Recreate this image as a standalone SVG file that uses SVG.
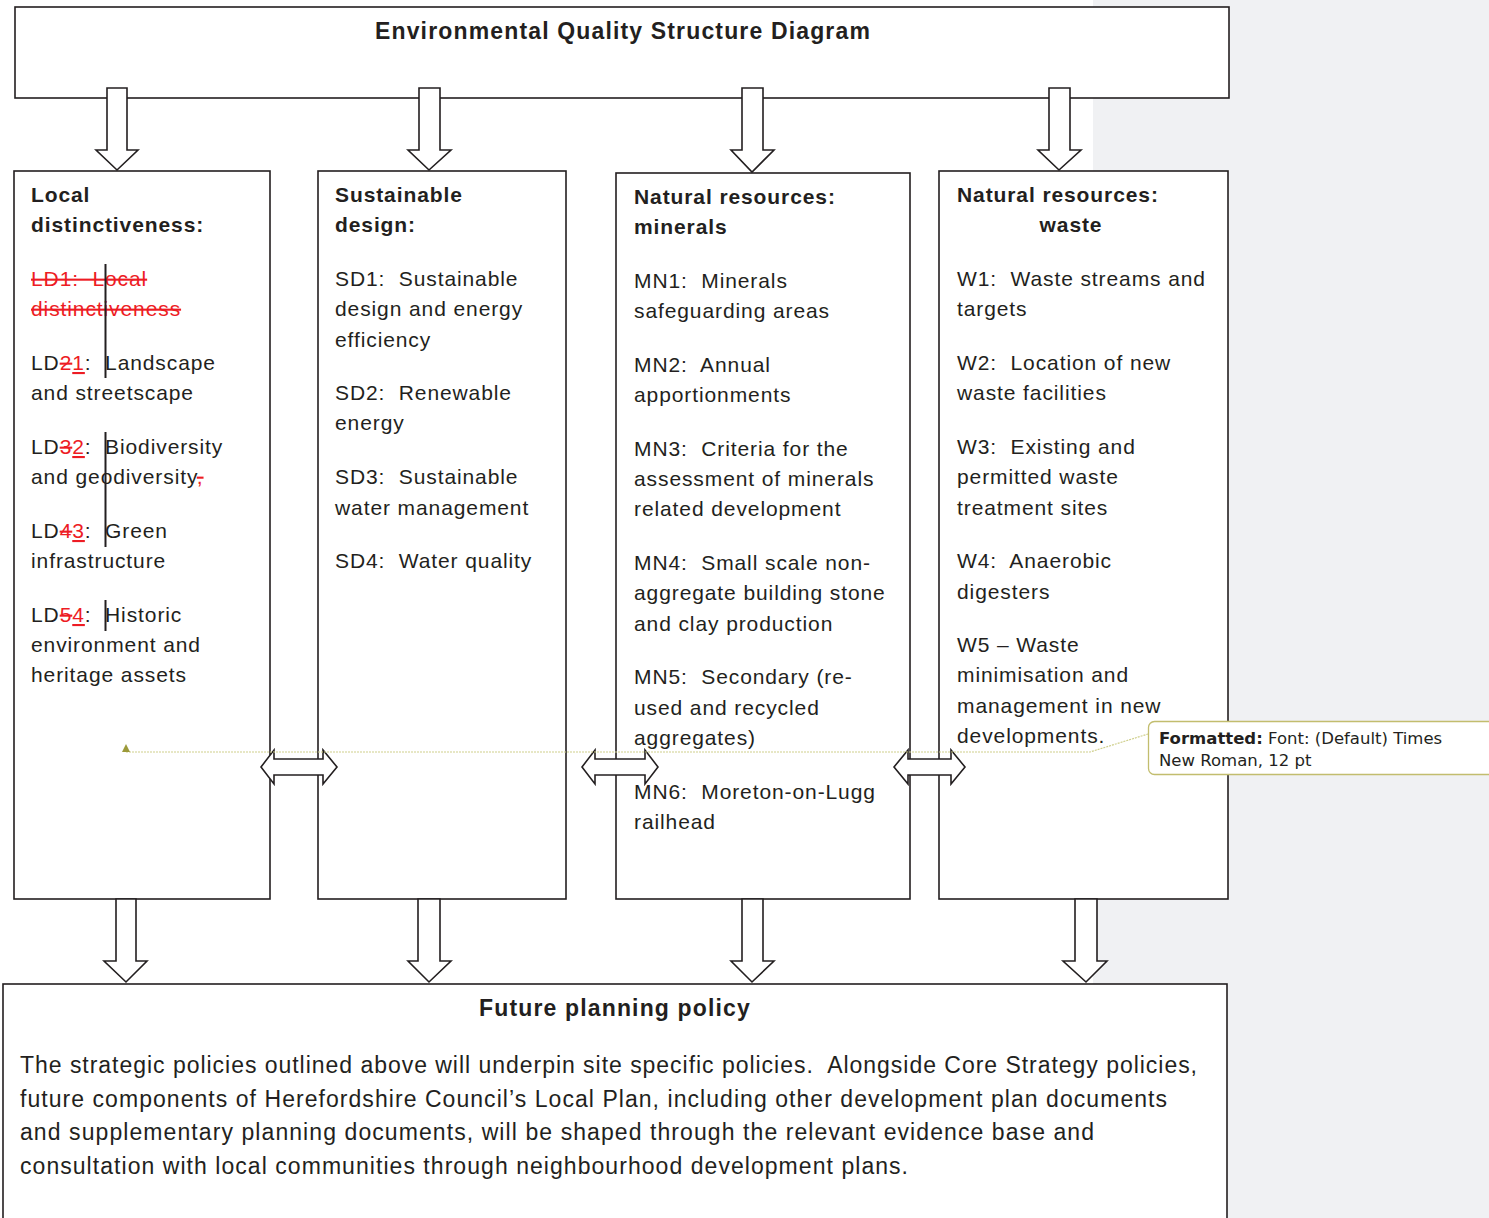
<svg xmlns="http://www.w3.org/2000/svg" width="1489" height="1218" viewBox="0 0 1489 1218">
<style>
.t{font-family:"Liberation Sans",Arial,sans-serif;font-size:21px;letter-spacing:0.9px;fill:#231f20;white-space:pre}
.h{font-family:"Liberation Sans",Arial,sans-serif;font-size:23px;letter-spacing:1.15px;fill:#231f20;font-weight:bold;white-space:pre}
.p{font-family:"Liberation Sans",Arial,sans-serif;font-size:23px;letter-spacing:1px;fill:#231f20;white-space:pre}
.b{font-weight:bold}
.box{fill:#fff;stroke:#231f20;stroke-width:1.6}
.arr{fill:#fff;stroke:#231f20;stroke-width:1.6;stroke-linejoin:miter}
.del{fill:#ed1c24;text-decoration:line-through}
.ins{fill:#ed1c24;text-decoration:underline}
.bar{stroke:#231f20;stroke-width:2}
.cm{font-family:"DejaVu Sans",Verdana,sans-serif;font-size:16.5px;fill:#231f20}
</style>
<rect x="0" y="0" width="1489" height="1218" fill="#fff"/>
<rect x="1093" y="0" width="396" height="1218" fill="#f0f1f3"/>

<g id="header">
<rect class="box" x="15" y="7" width="1214" height="91" stroke-width="2"/>
<text class="h" x="623" y="39" text-anchor="middle">Environmental Quality Structure Diagram</text>
</g>

<g id="local-distinctiveness">
<rect class="box" x="14" y="171" width="256" height="728"/>
<text class="t b" x="31" y="202">Local</text>
<text class="t b" x="31" y="232">distinctiveness:</text>
<text class="t" x="31" y="286"><tspan class="del">LD1:  Local</tspan></text>
<text class="t" x="31" y="316"><tspan class="del">distinctiveness</tspan></text>
<text class="t" x="31" y="370">LD<tspan class="del">2</tspan><tspan class="ins">1</tspan>:  Landscape</text>
<text class="t" x="31" y="400">and streetscape</text>
<text class="t" x="31" y="454">LD<tspan class="del">3</tspan><tspan class="ins">2</tspan>:  Biodiversity</text>
<text class="t" x="31" y="484">and geodiversity<tspan class="del">,</tspan></text>
<text class="t" x="31" y="538">LD<tspan class="del">4</tspan><tspan class="ins">3</tspan>:  Green</text>
<text class="t" x="31" y="568">infrastructure</text>
<text class="t" x="31" y="622">LD<tspan class="del">5</tspan><tspan class="ins">4</tspan>:  Historic</text>
<text class="t" x="31" y="652">environment and</text>
<text class="t" x="31" y="682">heritage assets</text>
<line class="bar" x1="105.5" y1="264" x2="105.5" y2="378"/>
<line class="bar" x1="105.5" y1="432" x2="105.5" y2="547"/>
<line class="bar" x1="105.5" y1="600" x2="105.5" y2="631"/>
</g>

<g id="sustainable-design">
<rect class="box" x="318" y="171" width="248" height="728"/>
<text class="t b" x="335" y="202">Sustainable</text>
<text class="t b" x="335" y="232">design:</text>
<text class="t" x="335" y="286">SD1:  Sustainable</text>
<text class="t" x="335" y="316">design and energy</text>
<text class="t" x="335" y="347">efficiency</text>
<text class="t" x="335" y="400">SD2:  Renewable</text>
<text class="t" x="335" y="430">energy</text>
<text class="t" x="335" y="484">SD3:  Sustainable</text>
<text class="t" x="335" y="515">water management</text>
<text class="t" x="335" y="568">SD4:  Water quality</text>
</g>

<g id="minerals">
<rect class="box" x="616" y="173" width="294" height="726"/>
<text class="t b" x="634" y="204">Natural resources:</text>
<text class="t b" x="634" y="234">minerals</text>
<text class="t" x="634" y="288">MN1:  Minerals</text>
<text class="t" x="634" y="318">safeguarding areas</text>
<text class="t" x="634" y="372">MN2:  Annual</text>
<text class="t" x="634" y="402">apportionments</text>
<text class="t" x="634" y="456">MN3:  Criteria for the</text>
<text class="t" x="634" y="486">assessment of minerals</text>
<text class="t" x="634" y="516">related development</text>
<text class="t" x="634" y="570">MN4:  Small scale non-</text>
<text class="t" x="634" y="600">aggregate building stone</text>
<text class="t" x="634" y="631">and clay production</text>
<text class="t" x="634" y="684">MN5:  Secondary (re-</text>
<text class="t" x="634" y="715">used and recycled</text>
<text class="t" x="634" y="745">aggregates)</text>
<text class="t" x="634" y="799">MN6:  Moreton-on-Lugg</text>
<text class="t" x="634" y="829">railhead</text>
</g>

<g id="waste">
<rect class="box" x="939" y="171" width="289" height="728"/>
<text class="t b" x="957" y="202">Natural resources:</text>
<text class="t b" x="1071" y="232" text-anchor="middle">waste</text>
<text class="t" x="957" y="286">W1:  Waste streams and</text>
<text class="t" x="957" y="316">targets</text>
<text class="t" x="957" y="370">W2:  Location of new</text>
<text class="t" x="957" y="400">waste facilities</text>
<text class="t" x="957" y="454">W3:  Existing and</text>
<text class="t" x="957" y="484">permitted waste</text>
<text class="t" x="957" y="515">treatment sites</text>
<text class="t" x="957" y="568">W4:  Anaerobic</text>
<text class="t" x="957" y="599">digesters</text>
<text class="t" x="957" y="652">W5 – Waste</text>
<text class="t" x="957" y="682">minimisation and</text>
<text class="t" x="957" y="713">management in new</text>
<text class="t" x="957" y="743">developments.</text>
</g>

<g id="future-planning-policy">
<rect class="box" x="3" y="984" width="1224" height="250"/>
<text class="h" x="615" y="1016" text-anchor="middle">Future planning policy</text>
<text class="p" x="20" y="1073" textLength="1178" lengthAdjust="spacing">The strategic policies outlined above will underpin site specific policies.  Alongside Core Strategy policies,</text>
<text class="p" x="20" y="1107" textLength="1148" lengthAdjust="spacing">future components of Herefordshire Council’s Local Plan, including other development plan documents</text>
<text class="p" x="20" y="1140" textLength="1075" lengthAdjust="spacing">and supplementary planning documents, will be shaped through the relevant evidence base and</text>
<text class="p" x="20" y="1174" textLength="889" lengthAdjust="spacing">consultation with local communities through neighbourhood development plans.</text>
</g>

<g id="connectors">
<polygon class="arr" points="107,88 127,88 127,150 138,150 117,170 96,150 107,150"/>
<polygon class="arr" points="419,88 440,88 440,150 451,150 429,170 408,150 419,150"/>
<polygon class="arr" points="742,88 763,88 763,150 774,150 752,172 731,150 742,150"/>
<polygon class="arr" points="1049,88 1070,88 1070,150 1081,150 1059,170 1038,150 1049,150"/>
<polygon class="arr" points="116,899 136,899 136,961 147,961 126,982 104,961 116,961"/>
<polygon class="arr" points="418,899 440,899 440,961 451,961 429,982 408,961 418,961"/>
<polygon class="arr" points="742,899 763,899 763,961 774,961 752,982 731,961 742,961"/>
<polygon class="arr" points="1075,899 1097,899 1097,961 1107,961 1086,982 1063,961 1075,961"/>
<polygon class="arr" points="261,767 274,750 274,759 323,759 323,750 337,767 323,784 323,775 274,775 274,784"/>
<polygon class="arr" points="582,767 595,750 595,759 645,759 645,750 658,767 645,784 645,775 595,775 595,784"/>
<polygon class="arr" points="894,767 908,750 908,759 951,759 951,750 965,767 951,784 951,775 908,775 908,784"/>
</g>

<g id="comment">
<polyline points="126,752 1090,752 1148,734" fill="none" stroke="#cfcf8c" stroke-width="1.2" stroke-dasharray="2,1"/>
<polygon points="122,752 130,752 126,744" fill="#9c9a3a"/>
<rect x="1148.5" y="721.5" width="360" height="53" rx="6" fill="#fff" stroke="#c2bd6e" stroke-width="1.3"/>
<text class="cm" x="1159" y="744"><tspan font-weight="bold">Formatted:</tspan> Font: (Default) Times</text>
<text class="cm" x="1159" y="766">New Roman, 12 pt</text>
</g>
</svg>
